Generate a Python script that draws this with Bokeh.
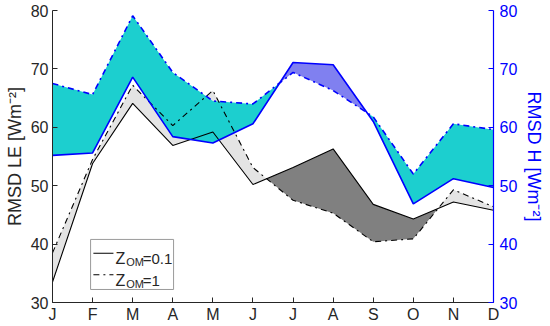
import numpy as np
from bokeh.plotting import figure
from bokeh.models import Range1d, LinearAxis, FixedTicker
from bokeh.core.properties import value
from bokeh.embed import file_html
from bokeh.resources import INLINE

months = ["J", "F", "M", "A", "M", "J", "J", "A", "S", "O", "N", "D"]
le_z01 = [33.5, 53.8, 64.1, 56.9, 59.2, 50.2, 53.1, 56.3, 46.8, 44.3, 47.2, 45.8]
le_z1 = [38.5, 54.5, 67.2, 60.3, 66.3, 53.1, 47.5, 45.3, 40.4, 40.9, 49.3, 46.4]
h_z01 = [55.2, 55.6, 68.6, 58.4, 57.3, 60.6, 71.1, 70.7, 61.0, 46.9, 51.2, 49.7]
h_z1 = [67.5, 65.6, 79.1, 69.4, 64.5, 64.0, 69.4, 66.3, 61.8, 52.0, 60.6, 59.6]
y_ticks = [30, 40, 50, 60, 70, 80]

FONT = "Liberation Sans"
AX = "#262626"
BLUE = "#0000ff"

x = list(range(len(months)))


def with_crossings(xv, a, b):
    xs, ya, yb = [], [], []
    for i in range(len(xv)):
        if i > 0:
            d0 = a[i - 1] - b[i - 1]
            d1 = a[i] - b[i]
            if d0 * d1 < 0:
                t = d0 / (d0 - d1)
                xc = xv[i - 1] + t * (xv[i] - xv[i - 1])
                yc = a[i - 1] + t * (a[i] - a[i - 1])
                xs.append(xc); ya.append(yc); yb.append(yc)
        xs.append(xv[i]); ya.append(a[i]); yb.append(b[i])
    hi = list(np.maximum(ya, yb))
    return xs, ya, yb, hi


p = figure(width=550, height=326, output_backend="svg", toolbar_location=None,
           x_range=Range1d(0, 11), y_range=Range1d(30, 80),
           min_border_left=52, min_border_right=57, min_border_top=10,
           min_border_bottom=24)
p.extra_y_ranges = {"h": Range1d(30, 80)}
p.grid.visible = False
p.outline_line_color = None
p.background_fill_color = "white"
p.border_fill_color = "white"

# LE fills
xs, ya, yb, hi = with_crossings(x, le_z1, le_z01)
p.varea(x=xs, y1=yb, y2=hi, fill_color="#e4e4e4")
p.varea(x=xs, y1=ya, y2=hi, fill_color="#808080")
# H fills
hxs, hya, hyb, hhi = with_crossings(x, h_z1, h_z01)
p.varea(x=hxs, y1=hyb, y2=hhi, fill_color="#1ccfcf", y_range_name="h")
p.varea(x=hxs, y1=hya, y2=hhi, fill_color="#8080f0", y_range_name="h")

# lines
p.line(x, le_z01, line_color="black", line_width=1.1)
p.line(x, le_z1, line_color="black", line_width=1.1, line_dash="dashdot")
p.line(x, h_z01, line_color=BLUE, line_width=1.6, y_range_name="h")
p.line(x, h_z1, line_color=BLUE, line_width=1.6, line_dash="dashdot", y_range_name="h")

# axes
p.xaxis.ticker = FixedTicker(ticks=x)
p.xaxis.major_label_overrides = {i: m for i, m in enumerate(months)}
p.yaxis.ticker = FixedTicker(ticks=y_ticks)
p.yaxis.axis_label = "RMSD LE [Wm\u207b\u00b2]"
for ax in [p.xaxis[0], p.yaxis[0]]:
    ax.axis_line_color = AX
    ax.major_tick_line_color = AX
    ax.major_tick_in = 5
    ax.major_tick_out = 0
    ax.minor_tick_line_color = None
    ax.major_label_text_color = AX
    ax.major_label_text_font = FONT
    ax.major_label_text_font_size = "16px"
    ax.major_label_text_line_height = 1.0
    ax.major_label_standoff = 4
    ax.axis_label_text_font = FONT
    ax.axis_label_text_font_size = "18px"
    ax.axis_label_text_line_height = 1.0
    ax.axis_label_text_font_style = "normal"
    ax.axis_label_text_color = AX
    ax.axis_label_standoff = 3
p.xaxis[0].major_label_standoff = 3
p.xaxis[0].axis_label_standoff = 0

rax = LinearAxis(y_range_name="h", ticker=FixedTicker(ticks=y_ticks),
                 axis_label="RMSD H [Wm\u207b\u00b2]")
rax.axis_line_color = BLUE
rax.axis_line_width = 1.2
rax.major_tick_line_color = BLUE
rax.major_tick_in = 5
rax.major_tick_out = 0
rax.minor_tick_line_color = None
rax.major_label_text_color = BLUE
rax.major_label_text_font = FONT
rax.major_label_text_font_size = "16px"
rax.major_label_text_line_height = 1.0
rax.major_label_standoff = 6
rax.axis_label_text_font = FONT
rax.axis_label_text_font_size = "18px"
rax.axis_label_text_line_height = 1.0
rax.axis_label_text_font_style = "normal"
rax.axis_label_text_color = BLUE
rax.axis_label_standoff = 4
p.add_layout(rax, "right")

# legend (manual, to allow subscript)
LEG_L, LEG_R, LEG_B, LEG_T = 0.95, 3.02, 32.23, 40.8
p.quad(left=[LEG_L], right=[LEG_R], bottom=[LEG_B], top=[LEG_T],
       fill_color="white", line_color="#9a9a9a", line_width=1)
row_y = [38.44, 34.74]
base_y = [37.55, 33.8]
labels_main = ["Z", "Z"]
labels_sub = ["OM", "OM"]
labels_val = ["=0.1", "=1"]
dashes = ["solid", "dashdot"]
for i in range(2):
    p.line([1.02, 1.52], [row_y[i], row_y[i]], line_color="black",
           line_width=1.1, line_dash=dashes[i])
p.text(x=[1.57, 1.57], y=base_y, text=labels_main, text_font=value(FONT),
       text_font_size="16px", text_baseline="alphabetic", text_color=AX)
p.text(x=[1.84, 1.84], y=[b - 0.68 for b in base_y], text=labels_sub,
       text_font=value(FONT), text_font_size="11px",
       text_baseline="alphabetic", text_color=AX)
p.text(x=[2.25, 2.25], y=base_y, text=labels_val, text_font=value(FONT),
       text_font_size="15px", text_baseline="alphabetic", text_color=AX)

open("out.html", "w").write(file_html(p, INLINE))
